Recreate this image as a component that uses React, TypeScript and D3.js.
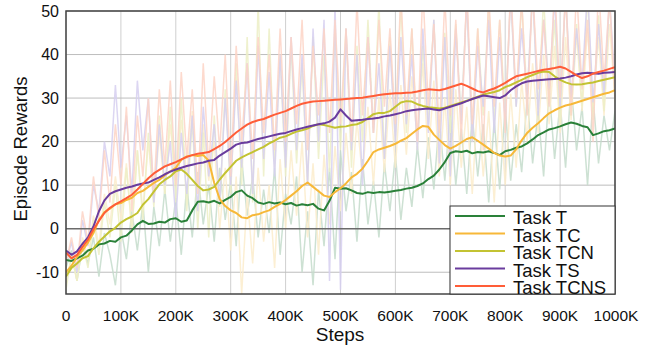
import React from "react";
import * as d3 from "d3";

const W = 655;
const H = 355;
const M = { left: 66, right: 615, top: 11, bottom: 294 };

const xTicks = [0, 100, 200, 300, 400, 500, 600, 700, 800, 900, 1000];
const xTickLabels = ["0", "100K", "200K", "300K", "400K", "500K", "600K", "700K", "800K", "900K", "1000K"];
const yTicks = [-10, 0, 10, 20, 30, 40, 50];

// smoothed series, one value every 10K steps (0 .. 1000K)
const smoothT = [
  -7.2, -7.4, -6.8, -6.2, -5, -4.6, -3.6, -3.4, -2.8, -3,
  -2, -1.6, -0.4, 1, 1.8, 1.1, 1.2, 1.6, 1.4, 2.2,
  2.4, 1.6, 1.9, 4.2, 6.2, 6.3, 6, 6.4, 5.8, 6.6,
  7.3, 8.4, 8.8, 7.6, 7, 6, 5.7, 6.1, 5.8, 6,
  5.6, 5.9, 5.3, 5.6, 5.4, 5.7, 4.6, 4.2, 6.4, 9.4,
  9.2, 9.3, 8.8, 8.2, 8, 8.4, 8.2, 8.4, 8.3, 8.5,
  8.7, 8.9, 9.2, 9.4, 9.8, 10.4, 11.4, 12.2, 13.6, 15.3,
  17.4, 17.8, 17.6, 17.9, 17.3, 17.6, 17.5, 17.8, 17.4, 16.9,
  17.8, 18.1, 18.6, 18.9, 19.6, 20.5, 21.5, 22.1, 22.8, 23.1,
  23.5, 24, 24.4, 24.1, 23.6, 23.3, 21.5, 21.9, 22.4, 22.6, 23,
];
const smoothTC = [
  -10, -8.5, -6.5, -5, -3.2, -1, 2, 3.8, 4.6, 5.6,
  5.9, 6.6, 7.1, 8.2, 8.7, 9.6, 10.5, 11.2, 12.3, 13.2,
  14, 15.8, 16.6, 16.9, 16.7, 16.9, 15.6, 10.5, 6.8, 5.2,
  4.2, 3.6, 2.6, 2.4, 3.1, 3.3, 3.8, 4.2, 5, 5.7,
  6.6, 7.6, 8.6, 9.8, 10.6, 9.6, 8.6, 7.6, 7.3, 8.4,
  9.3, 10.4, 11.8, 12.6, 13.8, 15.6, 17.6, 18.2, 18.6, 19,
  19.5, 20.2, 20.8, 21.8, 22.8, 23.6, 23.4, 21.6, 20.4, 19.2,
  18.4, 19, 19.8, 20.6, 21, 20.2, 19.3, 18.4, 17.4, 16.8,
  16.6, 16.8, 18.2, 20.3, 22, 23.2, 24.2, 25.4, 26.5, 27.2,
  27.8, 28.3, 28.6, 29, 29.4, 29.8, 30.2, 30.6, 31, 31.3, 31.8,
];
const smoothTCN = [
  -11, -9, -8, -6.8, -6.3, -4.5, -3, -1.8, -0.6, 0.2,
  1.4, 2.2, 2.8, 3.6, 5.5, 6.8, 8.5, 10.2, 11.2, 12,
  13.2, 13.6, 12.6, 11.2, 9.8, 8.8, 9, 9.6, 11.3, 12.8,
  14.2, 15.6, 16.4, 17, 17.6, 18.2, 18.8, 19.6, 20.2, 20.9,
  21.2, 21.8, 22.3, 22.6, 23, 23.6, 24, 23.8, 23.5, 23.2,
  23.4, 23.5, 23.8, 24, 24.5, 25.4, 26.3, 26.6, 26.6, 27,
  28, 29, 29.3, 29.2, 28.6, 28.2, 27.9, 27.8, 27.6, 27.8,
  28.2, 28.6, 29, 29.4, 29.8, 30.3, 30.8, 31.1, 31.4, 31.8,
  32.5, 33, 33.6, 34.2, 34.8, 35.3, 35.8, 36.1, 36, 35,
  34.2, 33.6, 33.2, 33.1, 33.2, 33.4, 33.6, 33.9, 34.2, 34.5, 34.8,
];
const smoothTS = [
  -5, -6, -5.2, -3.5, -2, 0.5, 4, 6.5, 8, 8.6,
  9, 9.4, 9.7, 10.1, 10.4, 10.6, 11.2, 11.8, 12.5, 13.1,
  13.6, 14, 14.4, 14.7, 15, 15.2, 15.6, 15.8, 16.8, 17.6,
  18.4, 19.3, 19.7, 19.8, 20.2, 20.6, 20.9, 21.2, 21.5, 21.8,
  22, 22.4, 22.8, 23.1, 23.4, 23.7, 24, 24.2, 24.6, 25.5,
  27.4, 26, 24.8, 24.9, 25, 25.2, 25.3, 25.5, 25.8, 26,
  26.3, 26.6, 27, 27.2, 27.4, 27.5, 27.6, 27.4, 27.2, 27.6,
  28, 28.4, 28.8, 29.3, 29.8, 30.2, 30.6, 30.4, 30.2, 30,
  30.6, 31.8, 32.7, 33.4, 33.8, 34, 34.1, 34.2, 34.3, 34.4,
  34.5, 34.7, 35, 35.4, 35.7, 35.8, 35.7, 35.6, 35.8, 35.9, 36,
];
const smoothTCNS = [
  -5.5, -6.8, -6, -4.2, -2.5, -0.2, 1.8, 3.6, 4.8, 5.6,
  6.3, 7, 7.8, 9, 10.3, 11.6, 12.7, 13.5, 14.3, 14.8,
  15.3, 15.9, 16.5, 16.9, 17.2, 17.4, 17.6, 18.3, 19, 19.9,
  21, 22.1, 23, 23.9, 24.5, 24.9, 25.2, 25.7, 26.2, 26.6,
  27, 27.6, 28.2, 28.7, 29, 29.2, 29.3, 29.4, 29.5, 29.6,
  29.7, 29.8, 29.9, 30, 30.1, 30.3, 30.5, 30.7, 30.9, 31,
  31.1, 31.1, 31.2, 31.3, 31.5, 31.8, 32, 31.9, 31.8, 32.1,
  32.5, 32.9, 33.3, 32.8, 32.2, 31.6, 31.3, 31.8, 32.2, 32.8,
  33.5, 34.3, 35, 35.3, 35.6, 35.9, 36.2, 36.5, 36.7, 36.9,
  37.2, 36.8, 36, 35.2, 34.6, 35, 35.6, 36, 36.3, 36.7, 37.1,
];

// raw (unsmoothed) rewards, one value every 10K steps
const rawT = [-9, -5, -12, -4, -8, -2, -11, -1, -6, -13, 0, -7, 4, -5, 6, -10, 5, -4, 9, -3, 7, -6, 10, -2, 13, 1, 10, -3, 14, 2, 11, -4, 16, 3, 12, -2, 9, -1, 14, -6, 8, 1, 12, -10, 4, -13, 9, -4, 14, -7, 18, 4, 13, -3, 16, 1, 11, -2, 15, 4, 17, 2, 14, 5, 19, 7, 21, 9, 25, 11, 27, 10, 23, 8, 26, 12, 24, 6, 25, 9, 28, 11, 24, 13, 30, 15, 27, 12, 32, 16, 29, 14, 33, 18, 28, 10, 30, 15, 26, 18, 27];
const rawTC = [-13, -6, -12, -2, -7, 3, -4, 8, 1, 12, 2, 15, -1, 18, 4, 20, 6, 22, 8, 24, 10, 25, 12, 27, 9, 24, 11, 20, 0, 14, -5, 12, -15, 8, -8, 14, -3, 10, -9, 16, 0, 18, 3, 20, -2, 15, -6, 17, 1, 19, 4, 22, 8, 25, 12, 28, 10, 30, 13, 32, 14, 33, 17, 35, 20, 38, 16, 34, 12, 30, 10, 32, 14, 28, 8, 30, 12, 27, 6, 29, 10, 31, 14, 34, 20, 38, 22, 40, 24, 42, 22, 44, 25, 45, 27, 46, 28, 44, 26, 47, 30];
const rawTCN = [-14, -6, -12, -3, -9, 2, -6, 6, -2, 10, -3, 14, 0, 18, 2, 22, 5, 26, 8, 28, 6, 30, 4, 25, 0, 22, -2, 26, 5, 32, 8, 38, 10, 44, 6, 52, 12, 46, 14, 40, 12, 42, 15, 38, 10, 44, 16, 40, 13, 45, 18, 46, 14, 42, 20, 48, 22, 52, 16, 44, 20, 52, 22, 46, 18, 42, 24, 48, 20, 45, 22, 47, 25, 53, 20, 46, 26, 52, 24, 48, 26, 54, 28, 52, 30, 55, 27, 53, 29, 48, 24, 55, 26, 47, 28, 54, 25, 49, 27, 53, 29];
const rawTS = [-8, -3, -10, 2, -4, 10, 4, 20, 12, 33, 14, 26, 8, 34, 18, 30, 6, 24, 10, 20, 2, 22, 8, 26, 4, 28, 12, 24, 6, 30, 10, 34, 14, 38, 8, 42, 16, 36, 12, 40, 14, 44, 18, 40, 10, 46, 20, 48, -12, 52, -14, 46, 18, 40, 10, 44, 22, 38, 16, 42, 20, 44, 24, 40, 18, 46, 22, 48, 15, 44, 12, 46, 24, 53, 20, 42, 28, 48, 22, 44, 24, 54, 28, 46, 30, 55, 26, 48, 32, 53, 28, 54, 30, 46, 33, 55, 29, 47, 31, 53, 33];
const rawTCNS = [-8, -2, -9, 4, -3, 12, 2, 18, 6, 24, 10, 28, 4, 26, 12, 30, 8, 32, 14, 34, 10, 36, 16, 32, 8, 38, 14, 35, 18, 40, 12, 42, 20, 38, 16, 44, 22, 40, 18, 46, 20, 44, 24, 48, 18, 42, 26, 46, 22, 48, 24, 46, 20, 52, 26, 44, 22, 48, 28, 46, 24, 54, 26, 46, 20, 55, 28, 47, 22, 53, 26, 48, 20, 55, 24, 46, 18, 54, 28, 48, 22, 56, 30, 53, 26, 55, 32, 48, 28, 56, 30, 54, 26, 55, 32, 48, 20, 56, 34, 53, 30];

const seriesNames = ["Task T", "Task TC", "Task TCN", "Task TS", "Task TCNS"];
const seriesColors = ["#2a8139", "#f7b838", "#c3c332", "#6a3c9e", "#ff5d38"];
const rawColors = ["#c4dccb", "#fbeccb", "#eceec6", "#d6cff0", "#fdd3c6"];
const smoothData = [smoothT, smoothTC, smoothTCN, smoothTS, smoothTCNS];
const rawData = [rawT, rawTC, rawTCN, rawTS, rawTCNS];

export default function App() {
  const x = d3.scaleLinear().domain([0, 1000]).range([M.left, M.right]);
  const y = d3.scaleLinear().domain([-15, 50]).range([M.bottom, M.top]);

  const seriesLine = (vals: number[]) =>
    d3
      .line<number>()
      .x((_, i) => x((i * 1000) / (vals.length - 1)))
      .y((d) => y(d))(vals) as string;

  const font = "'Liberation Sans', Arial, Helvetica, sans-serif";
  const legX = 450;
  const legY = 206;
  const legRowY = (i: number) => 216 + i * 17.5;

  return (
    <div style={{ position: "absolute", left: 0, top: 0 }}>
      <svg width={W} height={H} style={{ display: "block", fontFamily: font }}>
        <rect x={0} y={0} width={W} height={H} fill="#fff" />
        <defs>
          <clipPath id="plotClip">
            <rect x={M.left} y={M.top} width={M.right - M.left} height={M.bottom - M.top} />
          </clipPath>
        </defs>
        {xTicks.map((t) => (
          <line key={"gx" + t} x1={x(t)} x2={x(t)} y1={M.top} y2={M.bottom} stroke="#cfcfcf" strokeWidth={1} />
        ))}
        {yTicks
          .filter((t) => t !== 0)
          .map((t) => (
            <line key={"gy" + t} x1={M.left} x2={M.right} y1={y(t)} y2={y(t)} stroke="#bdbdbd" strokeWidth={1} />
          ))}
        <g clipPath="url(#plotClip)">
          {rawData.map((vals, i) => (
            <path key={"raw" + i} d={seriesLine(vals)} fill="none" stroke={rawColors[i]} strokeWidth={1.5} strokeOpacity={0.85} />
          ))}
        </g>
        <line x1={M.left} x2={M.right} y1={y(0)} y2={y(0)} stroke="#6b6b6b" strokeWidth={1.5} />
        <g clipPath="url(#plotClip)">
          {smoothData.map((vals, i) => (
            <path key={"sm" + i} d={seriesLine(vals)} fill="none" stroke={seriesColors[i]} strokeWidth={2} strokeLinejoin="round" />
          ))}
        </g>
        <rect x={M.left} y={M.top} width={M.right - M.left} height={M.bottom - M.top} fill="none" stroke="#444" strokeWidth={1.5} />
        {yTicks.map((t) => (
          <text key={"yt" + t} x={59} y={y(t)} dy="0.36em" textAnchor="end" fontSize={16} fill="#111">
            {t}
          </text>
        ))}
        {xTicks.map((t, i) => (
          <text key={"xt" + t} x={x(t) + (i === 10 ? 1 : 0)} y={321} textAnchor="middle" fontSize={15.5} fill="#111">
            {xTickLabels[i]}
          </text>
        ))}
        <text x={340} y={341} textAnchor="middle" fontSize={19} fill="#111">
          Steps
        </text>
        <text transform={`translate(27,149) rotate(-90)`} textAnchor="middle" fontSize={18.5} fill="#111">
          Episode Rewards
        </text>
        <rect x={legX} y={legY} width={M.right - legX} height={M.bottom - legY} fill="#fff" stroke="#333" strokeWidth={1} />
        {seriesNames.map((n, i) => (
          <g key={"lg" + i}>
            <line x1={455} x2={505} y1={legRowY(i)} y2={legRowY(i)} stroke={seriesColors[i]} strokeWidth={2} />
            <text x={513} y={legRowY(i) + 8} fontSize={18.5} fill="#111">
              {n}
            </text>
          </g>
        ))}
      </svg>
    </div>
  );
}
